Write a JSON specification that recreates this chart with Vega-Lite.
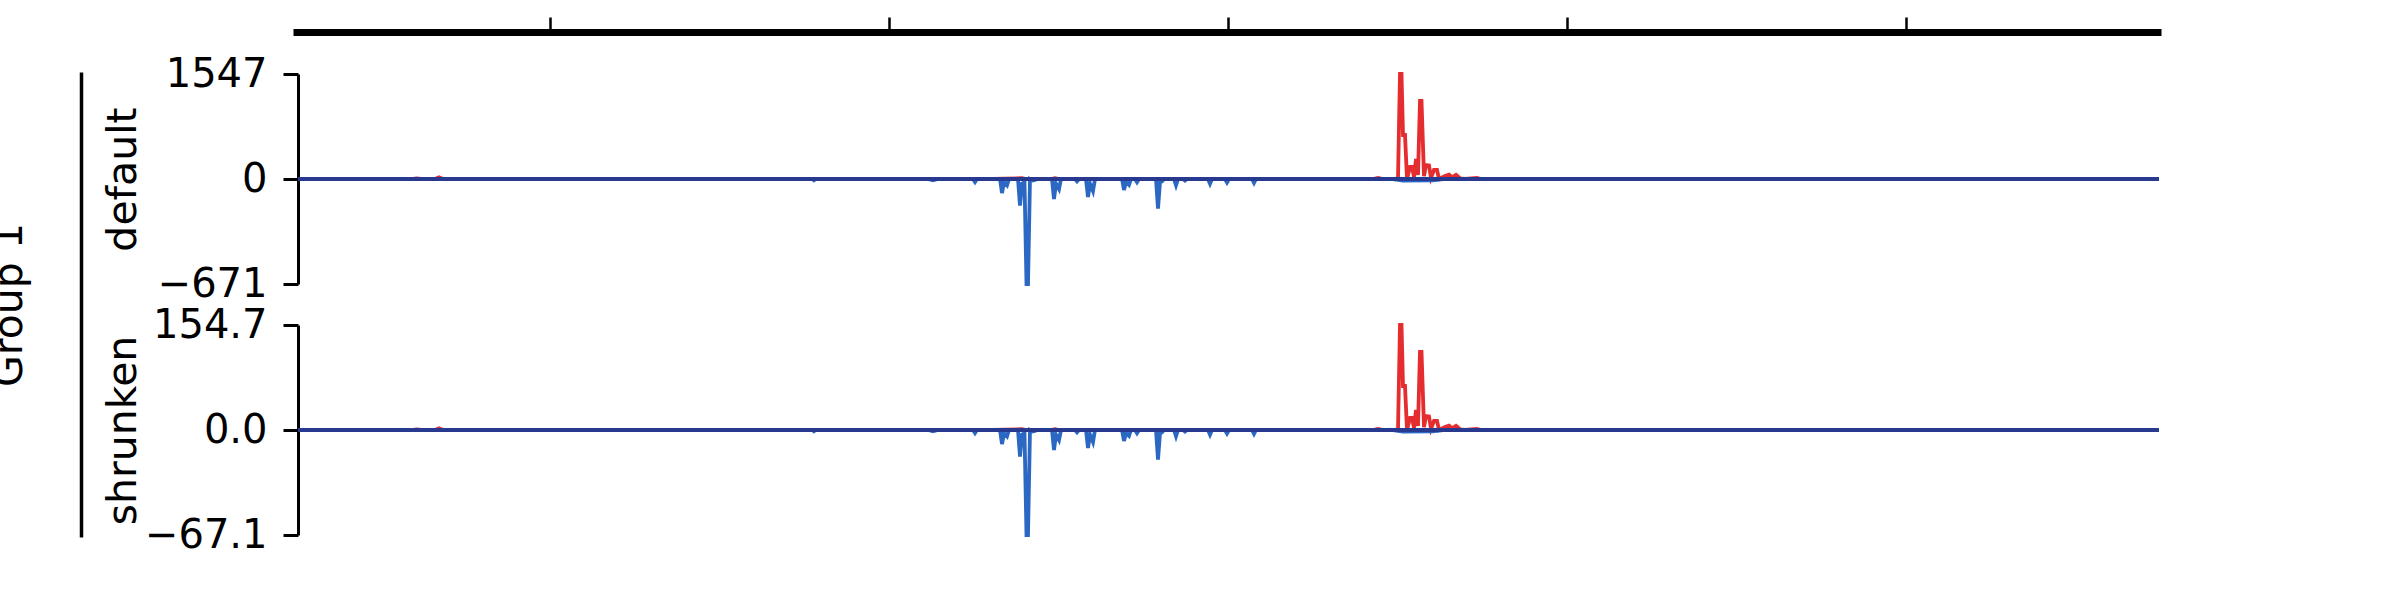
{
  "$schema": "https://vega.github.io/schema/vega-lite/v6.json",
  "padding": {"left": -12, "top": 15, "right": 0, "bottom": 0},
  "background": "white",
  "spacing": 41,
  "bounds": "flush",
  "config": {
    "view": {"stroke": null},
    "font": "DejaVu Sans",
    "axis": {
      "labelFont": "DejaVu Sans", "labelFontSize": 40, "labelColor": "black",
      "domainColor": "black", "tickColor": "black",
      "titleFont": "DejaVu Sans", "titleFontSize": 41, "titleFontWeight": "normal", "titleColor": "black",
      "grid": false, "labelFlush": false, "labelOverlap": false, "labelBound": false
    }
  },
  "datasets": {
    "pos": [
      {"x": 5, "d": 0, "s": 0}, {"x": 120, "d": 0, "s": 0}, {"x": 124, "d": 8, "s": 0.8}, {"x": 128, "d": 0, "s": 0},
      {"x": 142, "d": 0, "s": 0}, {"x": 146, "d": 25, "s": 2.5}, {"x": 150, "d": 0, "s": 0},
      {"x": 700, "d": 0, "s": 0}, {"x": 729, "d": 12, "s": 1.2}, {"x": 733, "d": 0, "s": 0},
      {"x": 758, "d": 0, "s": 0}, {"x": 762, "d": 12, "s": 1.2}, {"x": 766, "d": 0, "s": 0},
      {"x": 1080, "d": 0, "s": 0}, {"x": 1085, "d": 15, "s": 1.5}, {"x": 1090, "d": 0, "s": 0},
      {"x": 1105, "d": 0, "s": 0}, {"x": 1107, "d": 1547, "s": 154.7}, {"x": 1108.5, "d": 1547, "s": 154.7},
      {"x": 1110, "d": 648, "s": 64.8}, {"x": 1112, "d": 648, "s": 64.8}, {"x": 1114, "d": 0, "s": 0},
      {"x": 1117, "d": 177, "s": 17.7}, {"x": 1119, "d": 177, "s": 17.7}, {"x": 1121, "d": 30, "s": 3},
      {"x": 1123, "d": 295, "s": 29.5}, {"x": 1125, "d": 60, "s": 6}, {"x": 1127, "d": 1149, "s": 114.9},
      {"x": 1128.5, "d": 1149, "s": 114.9}, {"x": 1131, "d": 40, "s": 4}, {"x": 1133, "d": 206, "s": 20.6},
      {"x": 1136, "d": 200, "s": 20}, {"x": 1138, "d": 20, "s": 2}, {"x": 1141, "d": 133, "s": 13.3},
      {"x": 1144, "d": 133, "s": 13.3}, {"x": 1146, "d": 0, "s": 0}, {"x": 1152, "d": 45, "s": 4.5},
      {"x": 1156, "d": 63, "s": 6.3}, {"x": 1159, "d": 25, "s": 2.5}, {"x": 1163, "d": 60, "s": 6},
      {"x": 1167, "d": 10, "s": 1}, {"x": 1172, "d": 0, "s": 0}, {"x": 1184, "d": 15, "s": 1.5},
      {"x": 1188, "d": 0, "s": 0}, {"x": 1866, "d": 0, "s": 0}
    ],
    "neg": [
      {"x": 5, "d": 0, "s": 0}, {"x": 520, "d": 0, "s": 0}, {"x": 521, "d": -8, "s": -0.8}, {"x": 523, "d": 0, "s": 0},
      {"x": 635, "d": 0, "s": 0}, {"x": 640, "d": -8, "s": -0.8}, {"x": 645, "d": 0, "s": 0},
      {"x": 680, "d": 0, "s": 0}, {"x": 682, "d": -19, "s": -1.9}, {"x": 684, "d": 0, "s": 0},
      {"x": 707, "d": 0, "s": 0}, {"x": 709, "d": -90, "s": -9}, {"x": 711, "d": -20, "s": -2},
      {"x": 714, "d": -40, "s": -4}, {"x": 716, "d": 0, "s": 0}, {"x": 725, "d": 0, "s": 0},
      {"x": 727, "d": -170, "s": -17}, {"x": 729, "d": -30, "s": -3}, {"x": 731.5, "d": -20, "s": -2},
      {"x": 733.5, "d": -671, "s": -67.1}, {"x": 735, "d": -671, "s": -67.1}, {"x": 737, "d": 0, "s": 0},
      {"x": 740, "d": -10, "s": -1}, {"x": 745, "d": 0, "s": 0},
      {"x": 759, "d": 0, "s": 0}, {"x": 761, "d": -128, "s": -12.8}, {"x": 763, "d": -30, "s": -3},
      {"x": 766, "d": -64, "s": -6.4}, {"x": 768, "d": 0, "s": 0},
      {"x": 782, "d": 0, "s": 0}, {"x": 784, "d": -15, "s": -1.5}, {"x": 786, "d": 0, "s": 0},
      {"x": 793, "d": 0, "s": 0}, {"x": 795, "d": -115, "s": -11.5}, {"x": 797, "d": -30, "s": -3},
      {"x": 800, "d": -77, "s": -7.7}, {"x": 802, "d": 0, "s": 0},
      {"x": 829, "d": 0, "s": 0}, {"x": 831, "d": -70, "s": -7}, {"x": 833, "d": -20, "s": -2},
      {"x": 836, "d": -38, "s": -3.8}, {"x": 838, "d": 0, "s": 0},
      {"x": 842, "d": 0, "s": 0}, {"x": 844, "d": -20, "s": -2}, {"x": 846, "d": 0, "s": 0},
      {"x": 863, "d": 0, "s": 0}, {"x": 865, "d": -190, "s": -19}, {"x": 867, "d": -20, "s": -2},
      {"x": 869, "d": -15, "s": -1.5}, {"x": 871, "d": 0, "s": 0},
      {"x": 881, "d": 0, "s": 0}, {"x": 883, "d": -40, "s": -4}, {"x": 885, "d": 0, "s": 0},
      {"x": 890, "d": 0, "s": 0}, {"x": 892, "d": -10, "s": -1}, {"x": 894, "d": 0, "s": 0},
      {"x": 915, "d": 0, "s": 0}, {"x": 917, "d": -30, "s": -3}, {"x": 919, "d": 0, "s": 0},
      {"x": 932, "d": 0, "s": 0}, {"x": 934, "d": -22, "s": -2.2}, {"x": 936, "d": 0, "s": 0},
      {"x": 959, "d": 0, "s": 0}, {"x": 961, "d": -25, "s": -2.5}, {"x": 963, "d": 0, "s": 0},
      {"x": 1100, "d": 0, "s": 0}, {"x": 1110, "d": -10, "s": -1}, {"x": 1140, "d": -8, "s": -0.8},
      {"x": 1150, "d": 0, "s": 0}, {"x": 1866, "d": 0, "s": 0}
    ]
  },
  "vconcat": [
    {
      "width": 1868,
      "height": 210,
      "resolve": {"scale": {"y": "independent"}},
      "layer": [
        {
          "data": {"name": "pos"},
          "mark": {"type": "line", "color": "#e31a1c", "strokeWidth": 3.8, "opacity": 0.92},
          "encoding": {
            "x": {"field": "x", "type": "quantitative",
              "scale": {"domain": [0, 1868], "nice": false, "zero": false},
              "axis": {"orient": "top", "offset": 42, "values": [257, 596, 935, 1274, 1613], "labels": false,
                       "tickSize": 15, "tickWidth": 2.5, "domainWidth": 7, "title": null}},
            "y": {"field": "d", "type": "quantitative",
              "scale": {"domain": [-671, 0, 1547], "range": [210, 105, 0], "nice": false, "zero": false},
              "axis": {"values": [-671, 0, 1547], "format": "d", "offset": -5, "tickSize": 15, "tickWidth": 3,
                       "domainWidth": 3, "labelPadding": 16, "title": "default", "titleX": -154}}
          }
        },
        {
          "data": {"name": "neg"},
          "mark": {"type": "line", "color": "#2060c0", "strokeWidth": 3.8, "opacity": 0.95},
          "encoding": {
            "x": {"field": "x", "type": "quantitative"},
            "y": {"field": "d", "type": "quantitative",
              "scale": {"domain": [-671, 0, 1547], "range": [210, 105, 0], "nice": false, "zero": false},
              "axis": null}
          }
        },
        {
          "data": {"values": [{}]},
          "mark": {"type": "rule", "color": "#283a8f", "strokeWidth": 4},
          "encoding": {
            "x": {"datum": 5, "type": "quantitative"},
            "x2": {"datum": 1866},
            "y": {"datum": 0, "type": "quantitative",
              "scale": {"domain": [-671, 0, 1547], "range": [210, 105, 0], "nice": false, "zero": false},
              "axis": null}
          }
        },
        {
          "data": {"values": [{}]},
          "mark": {"type": "rule", "opacity": 0},
          "encoding": {
            "y": {"datum": 0.5, "type": "quantitative",
              "scale": {"domain": [0, 1], "range": [463, -2], "nice": false, "zero": false},
              "axis": {"orient": "left", "offset": 212, "ticks": false, "labels": false, "domainWidth": 3.5,
                       "title": "Group 1", "titleX": -51, "minExtent": 0, "maxExtent": 0}}
          }
        }
      ]
    },
    {
      "width": 1868,
      "height": 210,
      "layer": [
        {
          "data": {"name": "pos"},
          "mark": {"type": "line", "color": "#e31a1c", "strokeWidth": 3.8, "opacity": 0.92},
          "encoding": {
            "x": {"field": "x", "type": "quantitative",
              "scale": {"domain": [0, 1868], "nice": false, "zero": false}, "axis": null},
            "y": {"field": "s", "type": "quantitative",
              "scale": {"domain": [-67.1, 0, 154.7], "range": [210, 105, 0], "nice": false, "zero": false},
              "axis": {"values": [-67.1, 0, 154.7], "format": ".1f", "offset": -5, "tickSize": 15, "tickWidth": 3,
                       "domainWidth": 3, "labelPadding": 16, "title": "shrunken", "titleX": -154}}
          }
        },
        {
          "data": {"name": "neg"},
          "mark": {"type": "line", "color": "#2060c0", "strokeWidth": 3.8, "opacity": 0.95},
          "encoding": {
            "x": {"field": "x", "type": "quantitative"},
            "y": {"field": "s", "type": "quantitative"}
          }
        },
        {
          "data": {"values": [{}]},
          "mark": {"type": "rule", "color": "#283a8f", "strokeWidth": 4},
          "encoding": {
            "x": {"datum": 5, "type": "quantitative"},
            "x2": {"datum": 1866},
            "y": {"datum": 0, "type": "quantitative"}
          }
        }
      ]
    }
  ]
}
